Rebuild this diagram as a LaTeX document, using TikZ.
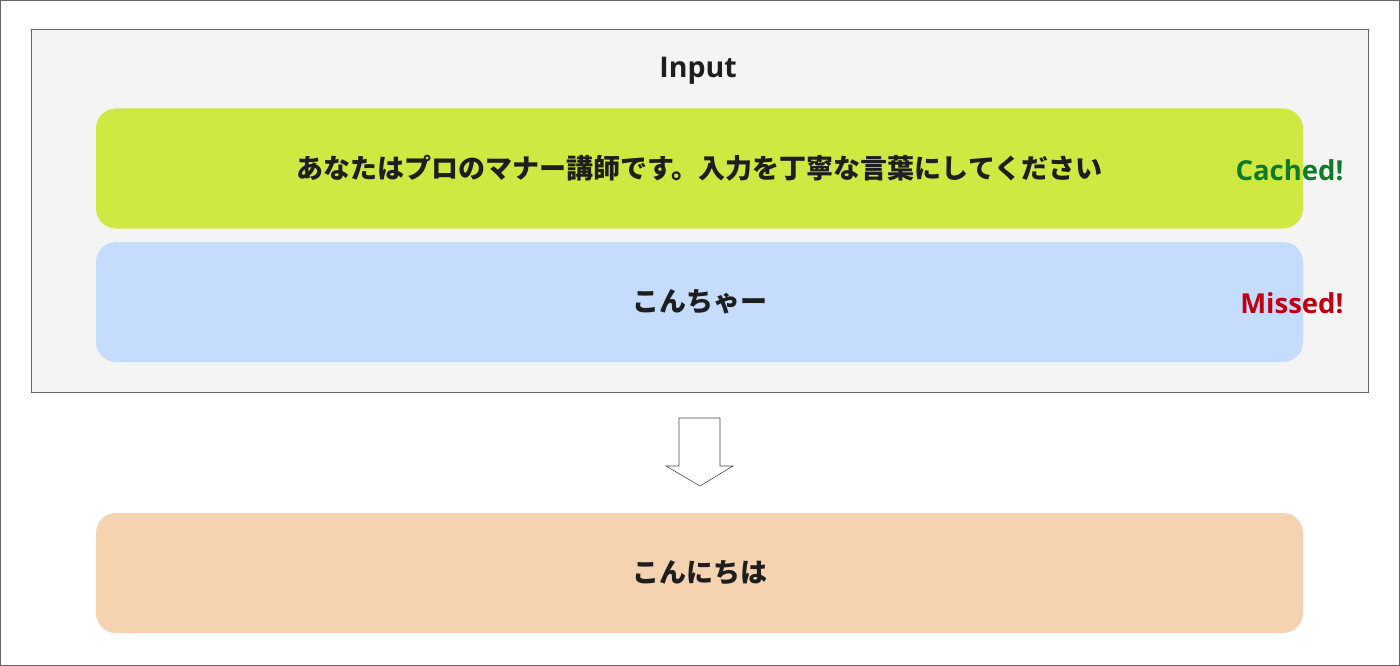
\documentclass[tikz,border=0pt]{standalone}
\usepackage{fontspec}
\setmainfont{Open Sans}
\newfontfamily\jpfont{Noto Sans CJK JP}
\usepackage{xcolor}
\usetikzlibrary{positioning}
\definecolor{cachedgreen}{RGB}{208, 232, 66}
\definecolor{missedblue}{RGB}{198, 220, 252}
\definecolor{outorange}{RGB}{246, 211, 176}
\definecolor{panelgray}{RGB}{244, 244, 244}
\definecolor{textdark}{RGB}{30, 30, 30}
\definecolor{okgreen}{RGB}{16, 122, 40}
\definecolor{ngred}{RGB}{192, 0, 16}
\tikzset{
    msgbox/.style={rounded corners=20pt, minimum width=1207pt, minimum height=120pt, inner sep=0pt, text=textdark, font=\jpfont\bfseries\fontsize{27}{32}\selectfont},
    cachebox/.style={msgbox, fill=cachedgreen},
    missbox/.style={msgbox, fill=missedblue},
    outbox/.style={msgbox, fill=outorange},
    status/.style={anchor=east, font=\bfseries\fontsize{27.5}{32}\selectfont}
}
\begin{document}
\begin{tikzpicture}[x=1pt, y=-1pt]
    \useasboundingbox (0,0) rectangle (1400,666);
    \draw[gray!80!black] (0.5,0.5) rectangle (1399.5,665.5);
    % input panel
    \draw[fill=panelgray, draw=black!60] (31,29) rectangle (1368,392);
    \node[font=\bfseries\fontsize{28.5}{32}\selectfont, text=textdark] (input) at (698,71) {Input};
    \node[cachebox] (prompt) at (699.5,168.5) {あなたはプロのマナー講師です。入力を丁寧な言葉にしてください};
    \node[missbox] (query) at (699.5,302) {こんちゃー};
    \node[status, text=okgreen] (cached) at (1347,170.5) {Cached!};
    \node[status, text=ngred] (missed) at (1347,303.5) {Missed!};
    % block arrow
    \draw[fill=white, draw=black!70, line width=0.6pt] (679,418) -- (720,418) -- (720,466) -- (733,466)
        -- (700,486) -- (666,466) -- (679,466) -- cycle;
    \node[outbox] (answer) at (699.5,573) {こんにちは};
\end{tikzpicture}
\end{document}
